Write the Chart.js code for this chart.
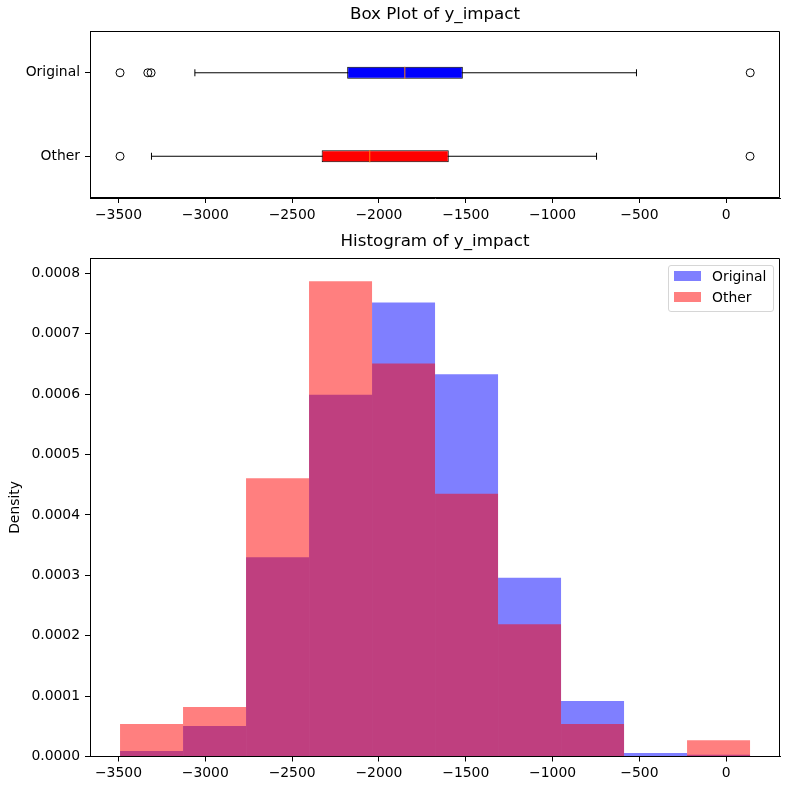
<!DOCTYPE html>
<html>
<head>
<meta charset="utf-8">
<script src="https://cdn.jsdelivr.net/npm/chart.js@4.4.1/dist/chart.umd.min.js"></script>
<style>
  body { margin: 0; background: #fff; }
  #wrap { position: relative; width: 790px; height: 790px; font-family: 'DejaVu Sans', sans-serif; }
  #boxWrap { position: absolute; left: 0; top: 0; width: 790px; height: 230px; }
  #histWrap { position: absolute; left: 0; top: 230px; width: 790px; height: 560px; }
  #legend {
    position: absolute; left: 668px; top: 265px; width: 104px; height: 45px;
    border: 1px solid #d6d6d6; border-radius: 3px; background: rgba(255,255,255,0.8);
    font-size: 13.9px; color: #000;
  }
  .item { position: absolute; left: 0; height: 16px; line-height: 16px; }
  .patch { position: absolute; left: 5px; top: 3px; width: 27px; height: 10px; }
  .lbl { position: absolute; left: 43px; top: 0; white-space: nowrap; }
</style>
</head>
<body>
<div id="wrap">
  <div id="boxWrap"><canvas id="boxChart"></canvas></div>
  <div id="histWrap"><canvas id="histChart"></canvas></div>
  <div id="legend"></div>
</div>
<script>
// box plot: [lower whisker, q1, median, q3, upper whisker]
const groups = ['Original', 'Other'];
const groupPos = [2, 1];
const originalStats = [-3060, -2183, -1851, -1517, -517];
const otherStats = [-3310, -2330, -2053, -1598, -747];
const originalOutliers = [-3491, -3331, -3312, 138];
const otherOutliers = [-3491, 137];

// histogram (density)
const binEdges = [-3491, -3128.2, -2765.4, -2402.6, -2039.8, -1677, -1314.2, -951.4, -588.6, -225.8, 137];
const originalDensity = [0.0000091, 0.0000505, 0.000330, 0.000599, 0.000752, 0.000633, 0.000296, 0.000092, 0.0000058, 0.000003];
const otherDensity = [0.000054, 0.000082, 0.000461, 0.000787, 0.000651, 0.000435, 0.000219, 0.000054, 0, 0.000027];

const xTicks = [-3500, -3000, -2500, -2000, -1500, -1000, -500, 0];
const yTicks = [0, 0.0001, 0.0002, 0.0003, 0.0004, 0.0005, 0.0006, 0.0007, 0.0008];

const seriesColors = ['rgba(0,0,255,0.5)', 'rgba(255,0,0,0.5)'];
const boxColors = ['#0000ff', '#ff0000'];

const font = { family: 'DejaVu Sans', size: 13.9 };
const titleFont = { family: 'DejaVu Sans', size: 16.7, weight: 'normal' };
const minus = v => (v < 0 ? '\u2212' + Math.abs(v) : String(v));

// matplotlib style frame round the axes
const frame = {
    id: 'frame',
    afterDraw(chart) {
        const a = chart.chartArea, ctx = chart.ctx;
        const l = Math.round(a.left) + 0.5, t = Math.round(a.top) + 0.5;
        const r = Math.round(a.right) - 0.5, b = Math.round(a.bottom) - 0.5;
        ctx.save();
        ctx.strokeStyle = '#000';
        ctx.lineWidth = 1;
        ctx.beginPath();
        ctx.moveTo(l, t); ctx.lineTo(r, t); ctx.lineTo(r, b); ctx.lineTo(l, b); ctx.closePath();
        ctx.stroke();
        ctx.restore();
    }
};

const axisX = (h) => ({
    type: 'linear', position: 'bottom', min: -3664, max: 309.5, offset: false,
    afterBuildTicks: s => { s.ticks = xTicks.map(v => ({ value: v })); },
    afterFit: s => { s.height = h; },
    grid: { drawOnChartArea: false, drawTicks: true, tickLength: 5, color: '#000', offset: false },
    border: { display: true, color: '#000' },
    ticks: { font: font, color: '#000', padding: 4, maxRotation: 0, callback: v => minus(v) }
});

Chart.defaults.animation = false;

// ---- box plot ----
const stats = [originalStats, otherStats];
const outliers = [originalOutliers, otherOutliers];

new Chart(document.getElementById('boxChart').getContext('2d'), {
    type: 'scatter',
    data: {
        datasets: [
            ...stats.map((s, i) => ({
                type: 'scatter', showLine: true, order: 5,
                data: [{ x: s[0], y: groupPos[i] }, { x: s[4], y: groupPos[i] }],
                borderColor: '#000', borderWidth: 1, pointRadius: 0
            })),
            {
                type: 'bar', indexAxis: 'y', order: 4,
                data: stats.map((s, i) => ({ x: [s[1], s[3]], y: groupPos[i] })),
                backgroundColor: boxColors, borderColor: '#000', borderWidth: 1,
                borderSkipped: false, barThickness: 12, inflateAmount: 0
            },
            {
                type: 'scatter', order: 1,
                data: stats.flatMap((s, i) => [{ x: s[0], y: groupPos[i] }, { x: s[4], y: groupPos[i] }]),
                pointStyle: 'line', rotation: 90, pointRadius: 3.5, borderColor: '#000', borderWidth: 1
            },
            {
                type: 'scatter', order: 1,
                data: stats.map((s, i) => ({ x: s[2], y: groupPos[i] })),
                pointStyle: 'line', rotation: 90, pointRadius: 6, borderColor: '#ff7f0e', borderWidth: 1
            },
            {
                type: 'scatter', order: 0,
                data: outliers.flatMap((o, i) => o.map(v => ({ x: v, y: groupPos[i] }))),
                pointStyle: 'circle', pointRadius: 4, backgroundColor: 'rgba(0,0,0,0)',
                borderColor: '#000', borderWidth: 1
            }
        ]
    },
    options: {
        responsive: true,
        maintainAspectRatio: false,
        layout: { padding: { left: 0, right: 10, top: 0, bottom: 0 } },
        plugins: {
            legend: { display: false },
            tooltip: { enabled: false },
            title: { display: true, fullSize: false, text: 'Box Plot of y_impact', color: '#000', font: titleFont, padding: { top: 5, bottom: 6 } }
        },
        scales: {
            x: axisX(32),
            y: {
                type: 'linear', position: 'left', min: 0.5, max: 2.5, offset: false,
                afterBuildTicks: s => { s.ticks = groupPos.map(v => ({ value: v })); },
                afterFit: s => { s.width = 90; },
                grid: { drawOnChartArea: false, drawTicks: true, tickLength: 5, color: '#000', offset: false },
                border: { display: true, color: '#000' },
                ticks: { font: font, color: '#000', padding: 5, callback: v => groups[groupPos.indexOf(v)] }
            }
        }
    },
    plugins: [frame]
});

// ---- histogram ----
const centers = binEdges.slice(0, -1).map((e, i) => (e + binEdges[i + 1]) / 2);

new Chart(document.getElementById('histChart').getContext('2d'), {
    type: 'bar',
    data: {
        datasets: [
            {
                label: 'Original', order: 1,
                data: centers.map((c, i) => ({ x: c, y: originalDensity[i] })),
                backgroundColor: seriesColors[0], borderWidth: 0, inflateAmount: 0
            },
            {
                label: 'Other', order: 0,
                data: centers.map((c, i) => ({ x: c, y: otherDensity[i] })),
                backgroundColor: seriesColors[1], borderWidth: 0, inflateAmount: 0
            }
        ]
    },
    options: {
        responsive: true,
        maintainAspectRatio: false,
        grouped: false,
        barPercentage: 1,
        categoryPercentage: 1,
        layout: { padding: { left: 0, right: 10, top: 0, bottom: 0 } },
        plugins: {
            legend: { display: false },
            tooltip: { enabled: false },
            title: { display: true, fullSize: false, text: 'Histogram of y_impact', color: '#000', font: titleFont, padding: { top: 2, bottom: 6.3 } }
        },
        scales: {
            x: axisX(33.5),
            y: {
                type: 'linear', position: 'left', min: 0, max: 0.000825,
                afterBuildTicks: s => { s.ticks = yTicks.map(v => ({ value: v })); },
                afterFit: s => { s.width = 90; },
                grid: { drawOnChartArea: false, drawTicks: true, tickLength: 5, color: '#000' },
                border: { display: true, color: '#000' },
                title: { display: true, text: 'Density', color: '#000', font: font, padding: { top: 7, bottom: 0 } },
                ticks: { font: font, color: '#000', padding: 5, callback: v => v.toFixed(4) }
            }
        }
    },
    plugins: [frame]
});

// legend inside the axes, upper right
const legend = document.getElementById('legend');
['Original', 'Other'].forEach((name, i) => {
    const item = document.createElement('div');
    item.className = 'item';
    item.style.top = (2 + i * 21) + 'px';
    item.style.width = '100%';
    item.innerHTML = '<div class="patch" style="background:' + seriesColors[i] + '"></div><span class="lbl">' + name + '</span>';
    legend.appendChild(item);
});
</script>
</body>
</html>
